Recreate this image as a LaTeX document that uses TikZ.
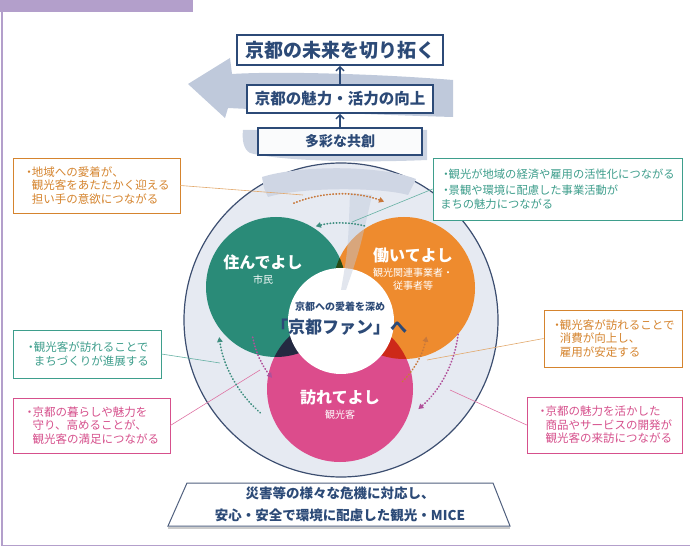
\documentclass[tikz,border=0pt]{standalone}
\usepackage{fontspec}
\setmainfont{Noto Sans CJK JP}
\usetikzlibrary{arrows.meta}
\definecolor{navy}{HTML}{2C4A77}
\definecolor{ringC}{HTML}{3C4E70}
\definecolor{ringF}{HTML}{E6EAF2}
\definecolor{swirl}{HTML}{BFC9DB}
\definecolor{greenC}{HTML}{2A8B78}
\definecolor{orangeC}{HTML}{EE8B2E}
\definecolor{pinkC}{HTML}{DC4C8C}
\definecolor{orangeT}{HTML}{D5842E}
\definecolor{tealT}{HTML}{3E9E8C}
\definecolor{pinkT}{HTML}{D6508C}
\definecolor{orangeA}{HTML}{C8783A}
\definecolor{tealA}{HTML}{3E8E80}
\definecolor{pinkA}{HTML}{B0509A}
\definecolor{framepurple}{HTML}{B39FCB}
\newcommand{\bul}{\makebox[0.75em][l]{・}}
\newcommand{\ind}{\hspace*{0.75em}}
\tikzset{
  topbox/.style={draw=navy, line width=1.6pt, fill=white, text=navy, inner sep=0pt},
  note/.style={draw=#1, line width=0.7pt, fill=white, text=#1, align=left,
    font=\fontsize{11.5}{13.5}\selectfont, inner sep=0pt},
  leader/.style={draw=#1, line width=0.6pt},
  loopar/.style={draw=#1, line width=1.7pt, line cap=round, dash pattern=on 0.5pt off 2.6pt,
    -{Triangle[length=5pt,width=5.5pt]}},
  upar/.style={draw=navy, line width=1.5pt, -{Straight Barb[length=4pt,width=8pt]}},
  mainlbl/.style={text=white, font=\bfseries\fontsize{16}{18}\selectfont},
  sublbl/.style={text=white, font=\fontsize{10}{13}\selectfont, align=center}
}
\begin{document}
\begin{tikzpicture}[x=1pt,y=1pt]
\useasboundingbox (0,0) rectangle (690,549);
% frame
\fill[framepurple] (0,537) rectangle (193,549);
\draw[framepurple, line width=1.5pt] (2,537) -- (2,3.5) -- (690,3.5);
% swirl behind the boxes
\fill[swirl] (453,469) .. controls (380,475) and (280,478) .. (232,475)
  -- (230,491) -- (188,465) -- (225,431) -- (228,441)
  .. controls (290,438) and (380,434) .. (453,432) -- cycle;
\fill[swirl!80] (243,419) -- (427,419) -- (427,389)
  .. controls (360,386) and (280,388) .. (250,396)
  .. controls (243,400) and (242,410) .. (243,419) -- cycle;
% big ring
\coordinate (ctr) at (341,229);
\filldraw[fill=ringF, draw=ringC, line width=1.2pt] (ctr) circle (157);
\fill[swirl!75] (262,372) .. controls (300,384) and (380,384) .. (416,370)
  .. controls (412,362) .. (408,354) .. controls (380,362) and (300,362) .. (268,352)
  .. controls (264,360) .. (262,372) -- cycle;
% three circles
\begin{scope}[blend group=multiply]
  \fill[greenC] (276,262) circle (70);
  \fill[orangeC] (404,261) circle (71);
  \fill[pinkC] (340,160) circle (73);
\end{scope}
\fill[white] (341,228) circle (53);
\fill[swirl, opacity=0.45] (350,356) -- (372,354) .. controls (360,300) .. (346,259)
  -- (341,259) .. controls (348,300) .. (350,356) -- cycle;
% circle labels
\node[mainlbl] (sumu) at (263,287) {住んでよし};
\node[sublbl] (shimin) at (263,269) {市民};
\node[mainlbl] (hataraku) at (413,294) {働いてよし};
\node[sublbl] (jigyo) at (413,270) {観光関連事業者・\\従事者等};
\node[mainlbl] (otozure) at (340,152) {訪れてよし};
\node[sublbl] (kankokyaku) at (340,134) {観光客};
\node[text=navy, font=\bfseries\fontsize{10}{12}\selectfont] (aichaku) at (340,242) {京都への愛着を深め};
\node[text=navy, font=\bfseries\fontsize{17}{20}\selectfont] (fan) at (339,222) {「京都ファン」へ};
% top boxes
\node[topbox, minimum width=206, minimum height=30, font=\bfseries\fontsize{19}{22}\selectfont] (mirai) at (340,499) {京都の未来を切り拓く};
\node[topbox, minimum width=186, minimum height=28, font=\bfseries\fontsize{15.5}{18}\selectfont] (miryoku) at (340,450) {京都の魅力・活力の向上};
\node[topbox, line width=1.3pt, fill=white!92!swirl, minimum width=164, minimum height=27, font=\bfseries\fontsize{14}{16}\selectfont] (kyoso) at (340,407.5) {多彩な共創};
\draw[upar] (miryoku.north) -- (mirai.south);
\draw[upar] (kyoso.north) -- (miryoku.south);
% notes
\node[note=orangeT, minimum width=167, minimum height=55] (noteA) at (96.5,363.5)
  {\bul 地域への愛着が、\\\ind 観光客をあたたかく迎える\\\ind 担い手の意欲につながる};
\node[note=tealT, font=\fontsize{11.3}{13.5}\selectfont, minimum width=249, minimum height=62] (noteB) at (557.5,360)
  {\bul 観光が地域の経済や雇用の活性化につながる\\[3pt]\bul 景観や環境に配慮した事業活動が\\まちの魅力につながる};
\node[note=tealT, minimum width=148, minimum height=48] (noteC) at (87,195)
  {\bul 観光客が訪れることで\\\ind まちづくりが進展する};
\node[note=pinkT, minimum width=157, minimum height=55] (noteD) at (91.5,123.5)
  {\bul 京都の暮らしや魅力を\\\ind 守り、高めることが、\\\ind 観光客の満足につながる};
\node[note=orangeT, minimum width=138, minimum height=57] (noteE) at (613,210.5)
  {\bul 観光客が訪れることで\\\ind 消費が向上し、\\\ind 雇用が安定する};
\node[note=pinkT, minimum width=155, minimum height=56] (noteF) at (604.5,124)
  {\bul 京都の魅力を活かした\\\ind 商品やサービスの開発が\\\ind 観光客の来訪につながる};
% leader ends
\coordinate (endA) at (303,354);
\coordinate (endB) at (352,327);
\coordinate (endC) at (220,186);
\coordinate (endD) at (260,179);
\coordinate (endE) at (427,189);
\coordinate (endF) at (450,159);
\draw[leader=orangeT!70] (noteA.east) -- (endA);
\draw[leader=tealT!80] (noteB.west) -- (endB);
\draw[leader=tealT!80] (noteC.east) -- (endC);
\draw[leader=pinkT!80] (noteD.east) -- (endD);
\draw[leader=orangeT!70] (noteE.west) -- (endE);
\draw[leader=pinkT!80] (noteF.west) -- (endF);
% dotted loops
\draw[loopar=orangeA] (ctr) ++(112:126) arc[start angle=112, end angle=70, radius=126];
\draw[loopar=tealA] (ctr) ++(76:97) arc[start angle=76, end angle=105, radius=97];
\draw[loopar=tealA] (ctr) ++(229:123) arc[start angle=229, end angle=188, radius=123];
\draw[loopar=pinkA] (ctr) ++(191:90) arc[start angle=191, end angle=220, radius=90];
\draw[loopar=orangeA] (ctr) ++(-45:87) arc[start angle=-45, end angle=-11, radius=87];
\draw[loopar=pinkA] (ctr) ++(-7:118) arc[start angle=-7, end angle=-49, radius=118];
% base
\coordinate (bTL) at (187,66);
\coordinate (bTR) at (493,66);
\coordinate (bBR) at (510,23);
\coordinate (bBL) at (168,23);
\draw[gray!40, line width=2pt] ([yshift=-1.5pt]bBL) -- ([yshift=-1.5pt]bBR);
\filldraw[fill=white, draw=ringC!90, line width=1pt] (bTL) -- (bTR) -- (bBR) -- (bBL) -- cycle;
\node[text=navy, align=center, font=\bfseries\fontsize{13.5}{22}\selectfont] (base) at (340,45)
  {災害等の様々な危機に対応し、\\安心・安全で環境に配慮した観光・MICE};
\end{tikzpicture}
\end{document}
